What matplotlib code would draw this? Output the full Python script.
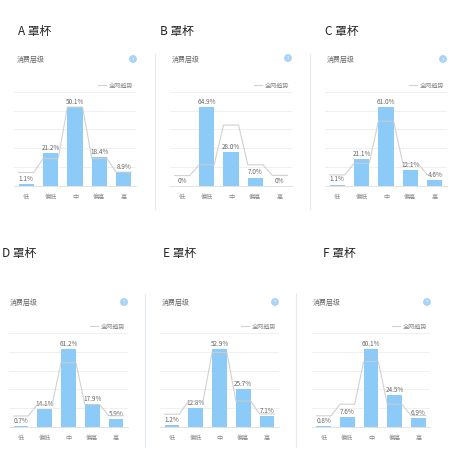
import matplotlib.pyplot as plt
from matplotlib.lines import Line2D
from matplotlib.patches import Circle

plt.rcParams['font.family'] = ['Noto Sans CJK SC', 'DejaVu Sans']

# 数据
cups = ['A', 'B', 'C', 'D', 'E', 'F']
levels = ['低', '偏低', '中', '偏高', '高']
values_a = [1.1, 21.2, 50.1, 18.4, 8.9]
values_b = [0.0, 64.9, 28.0, 7.0, 0.0]
values_c = [1.1, 21.1, 61.0, 12.1, 4.6]
values_d = [0.7, 14.1, 61.2, 17.9, 5.9]
values_e = [1.2, 12.8, 52.9, 25.7, 7.1]
values_f = [0.8, 7.6, 60.1, 24.5, 6.9]
trend = [8.6, 17.5, 50.3, 17.5, 8.8]  # 全网趋势
all_values = [values_a, values_b, values_c, values_d, values_e, values_f]

W, H = 450, 456
BAR = '#8ccbf7'
GRAY = '#666666'

# Pixel-Layout je Panel: (links, rechts, oben, basis), Titel, Untertitel, Icon
axes_px = [(14, 136, 92.7, 187), (170, 292, 92.7, 187), (325, 447, 92.7, 187),
           (9, 128, 334, 428), (160, 279, 334, 428), (312, 430, 334, 428)]
title_px = [(18, 32), (160, 32), (325, 32), (2, 253), (163, 253), (323, 253)]
sub_px = [(17, 60), (172, 60), (327, 60), (10, 303), (162, 303), (313, 303)]
icon_px = [(133, 60), (288, 59), (443, 60), (124, 303), (275, 303), (427, 303)]
borders = [(155, 55, 210), (310, 55, 210), (145, 295, 448), (296, 295, 448)]


def fx(x):
    return x / W


def fy(y):
    return 1 - y / H


fig = plt.figure(figsize=(W / 100, H / 100), dpi=100)

for i, cup in enumerate(cups):
    vals = all_values[i]
    l, r, t, b = axes_px[i]
    ax = fig.add_axes([fx(l), fy(b), fx(r) - fx(l), fy(t) - fy(b)])
    ymax = max(vals) * 1.2
    xs = range(len(levels))
    bw = 0.62
    bars = ax.bar(xs, vals, width=bw, color=BAR, zorder=2)
    for rect, v in zip(bars, vals):
        label = '0%' if v == 0 else f'{v:.1f}%'
        ax.annotate(label, (rect.get_x() + bw / 2, v), xytext=(0, 1.5),
                    textcoords='offset points', ha='center', va='bottom',
                    fontsize=4.6, color=GRAY)
    # Trendlinie: flach über jeder Säule
    lx, ly = [], []
    for k, tv in enumerate(trend):
        lx += [k - bw / 2, k + bw / 2]
        ly += [tv, tv]
    ax.plot(lx, ly, color='#cccccc', lw=0.8, alpha=0.9, zorder=3, label='全网趋势')

    ax.set_xlim(-0.5, len(levels) - 0.5)
    ax.set_ylim(0, ymax)
    ax.set_yticks([ymax * k / 5 for k in range(1, 6)])
    ax.yaxis.grid(True, color='#eeeeee', lw=0.6)
    ax.set_axisbelow(True)
    ax.tick_params(axis='y', left=False, labelleft=False)
    ax.set_xticks(list(xs))
    ax.set_xticklabels(levels, fontsize=4.4, color='#888888')
    ax.tick_params(axis='x', length=0, pad=4)
    for s in ['top', 'right', 'left']:
        ax.spines[s].set_visible(False)
    ax.spines['bottom'].set_color('#dddddd')
    ax.spines['bottom'].set_linewidth(0.6)
    ax.patch.set_alpha(0)
    ax.legend(loc='lower right', bbox_to_anchor=(1.0, 1.0), frameon=False,
              fontsize=4.4, labelcolor='#888888', handlelength=1.3,
              handletextpad=0.4, borderaxespad=0.3, borderpad=0.2)

    tx, ty = title_px[i]
    fig.text(fx(tx), fy(ty), f'{cup} 罩杯', fontsize=8.5, color='#222222',
             ha='left', va='center')
    sx, sy = sub_px[i]
    fig.text(fx(sx), fy(sy), '消费层级', fontsize=5, color=GRAY,
             ha='left', va='center')
    cx, cy = icon_px[i]
    fig.add_artist(Circle((fx(cx), fy(cy)), 3.2 / W, color='#a9d3f5',
                          transform=fig.transFigure))
    fig.text(fx(cx), fy(cy), '?', fontsize=3.5, color='white',
             ha='center', va='center')

for x, y0, y1 in borders:
    fig.add_artist(Line2D([fx(x), fx(x)], [fy(y0), fy(y1)], color='#e2ebf4',
                          lw=0.8, transform=fig.transFigure))

fig.savefig('out.png', dpi=100)
